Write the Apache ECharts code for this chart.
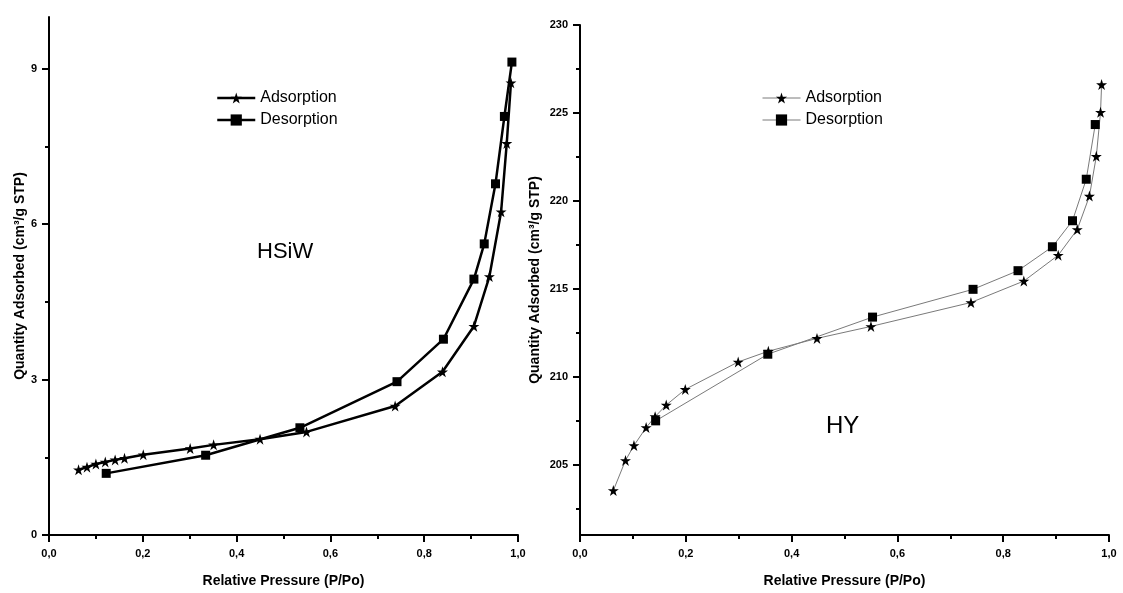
<!DOCTYPE html>
<html>
<head>
<meta charset="utf-8">
<script src="https://cdn.jsdelivr.net/npm/echarts@6/dist/echarts.min.js"></script>
<style>
html,body{margin:0;padding:0;background:#fff;}
#chart{width:1123px;height:593px;}
</style>
</head>
<body>
<div id="chart"></div>
<script>
// ---- Data: HSiW ----
const hsiwAdsP = [0.063,0.081,0.100,0.120,0.141,0.161,0.201,0.301,0.351,0.450,0.549,0.738,0.839,0.906,0.939,0.964,0.976,0.985];
const hsiwAdsQ = [1.26,1.31,1.37,1.41,1.45,1.48,1.55,1.67,1.74,1.85,1.99,2.49,3.15,4.03,4.99,6.24,7.56,8.73];
const hsiwDesP = [0.987,0.971,0.952,0.928,0.906,0.841,0.742,0.535,0.334,0.122];
const hsiwDesQ = [9.13,8.08,6.78,5.62,4.94,3.78,2.96,2.07,1.54,1.19];
// ---- Data: HY ----
const hyAdsP = [0.063,0.086,0.102,0.125,0.142,0.163,0.199,0.299,0.356,0.448,0.550,0.739,0.839,0.904,0.940,0.963,0.976,0.984,0.986];
const hyAdsQ = [203.53,205.24,206.09,207.11,207.73,208.39,209.28,210.84,211.45,212.18,212.86,214.22,215.44,216.91,218.37,220.27,222.53,225.04,226.61];
const hyDesP = [0.974,0.957,0.931,0.893,0.828,0.743,0.553,0.355,0.143];
const hyDesQ = [224.34,221.23,218.87,217.39,216.03,214.97,213.39,211.28,207.49];
// ---- Ticks ----
const xTicks = [0,0.2,0.4,0.6,0.8,1.0];
const xMinorTicks = [0.1,0.3,0.5,0.7,0.9];
const hsiwYTicks = [0,3,6,9];
const hsiwYMinor = [1.5,4.5,7.5];
const hyYTicks = [205,210,215,220,225,230];
const hyYMinor = [202.5,207.5,212.5,217.5,222.5,227.5];
const seriesNames = ['Adsorption','Desorption'];

const zip = (a,b) => a.map((v,i)=>[v,b[i]]);
const starPath = 'path://M100,0L122.45,69.1L195.11,69.1L136.33,111.8L158.78,180.9L100,138.2L41.22,180.9L63.67,111.8L4.89,69.1L77.55,69.1Z';
const FONT = '"Liberation Sans", Arial, sans-serif';
const fmtX = v => Number(v).toFixed(1).replace('.', ',');

function xAxisDef(gridIndex){
  return [{
    type:'value', gridIndex, min:0, max:1, position:'bottom',
    axisLine:{show:true, lineStyle:{color:'#000', width:2}},
    axisTick:{show:true, inside:false, length:7, lineStyle:{color:'#000', width:2}, customValues: xTicks},
    axisLabel:{show:true, margin:13, fontSize:11, fontWeight:'bold', color:'#000', fontFamily:FONT, formatter: fmtX, customValues: xTicks},
    splitLine:{show:false},
    name:'Relative Pressure (P/Po)', nameLocation:'middle', nameGap:39,
    nameTextStyle:{fontSize:14, fontWeight:'bold', color:'#000', fontFamily:FONT}
  },{
    type:'value', gridIndex, min:0, max:1, position:'bottom',
    axisLine:{show:false},
    axisTick:{show:true, inside:false, length:4, lineStyle:{color:'#000', width:2}, customValues: xMinorTicks},
    axisLabel:{show:false},
    splitLine:{show:false}
  }];
}
function yAxisDef(gridIndex, min, max, ticks, minor, gap){
  return [{
    type:'value', gridIndex, min, max, position:'left',
    axisLine:{show:true, lineStyle:{color:'#000', width:2}},
    axisTick:{show:true, inside:false, length:7, lineStyle:{color:'#000', width:2}, customValues: ticks},
    axisLabel:{show:true, margin:12, fontSize:11, fontWeight:'bold', color:'#000', fontFamily:FONT, customValues: ticks},
    splitLine:{show:false},
    name:'Quantity Adsorbed (cm³/g STP)', nameLocation:'middle', nameGap:gap,
    nameTextStyle:{fontSize:14, fontWeight:'bold', color:'#000', fontFamily:FONT}
  },{
    type:'value', gridIndex, min, max, position:'left',
    axisLine:{show:false},
    axisTick:{show:true, inside:false, length:4, lineStyle:{color:'#000', width:2}, customValues: minor},
    axisLabel:{show:false},
    splitLine:{show:false}
  }];
}

const leftStyle = {color:'#000', width:2.5};
const rightStyle = {color:'#7a7a7a', width:1};

const option = {
  animation:false,
  backgroundColor:'#fff',
  grid:[
    {left:49, top:17, width:469, height:519, containLabel:false},
    {left:580, top:25, width:529, height:513, containLabel:false}
  ],
  xAxis:[...xAxisDef(0), ...xAxisDef(1)],
  yAxis:[
    ...yAxisDef(0, 0, 10, hsiwYTicks, hsiwYMinor, 22),
    ...yAxisDef(1, 201, 230, hyYTicks, hyYMinor, 38)
  ],
  legend:[
    {
      left:211, top:85, orient:'vertical', itemWidth:38, itemHeight:14, itemGap:6,
      textStyle:{fontSize:16, color:'#000', fontFamily:FONT},
      data:[
        {name:seriesNames[0], itemStyle:{color:'#000'}, lineStyle:leftStyle},
        {name:seriesNames[1], itemStyle:{color:'#000'}, lineStyle:leftStyle}
      ]
    },
    {
      left:757, top:85, orient:'vertical', itemWidth:38, itemHeight:14, itemGap:6,
      textStyle:{fontSize:16, color:'#000', fontFamily:FONT},
      data:[
        {name:seriesNames[0], itemStyle:{color:'#000'}, lineStyle:rightStyle},
        {name:seriesNames[1], itemStyle:{color:'#000'}, lineStyle:rightStyle}
      ]
    }
  ],
  graphic:[
    {type:'text', left:257, top:241, style:{text:'HSiW', font:'22px "Liberation Sans", Arial, sans-serif', fill:'#000'}},
    {type:'text', left:826, top:414, style:{text:'HY', font:'24px "Liberation Sans", Arial, sans-serif', fill:'#000'}}
  ],
  series:[
    {name:seriesNames[0], type:'line', xAxisIndex:0, yAxisIndex:0, data:zip(hsiwAdsP,hsiwAdsQ),
      symbol:starPath, symbolSize:11, itemStyle:{color:'#000'}, lineStyle:leftStyle},
    {name:seriesNames[1], type:'line', xAxisIndex:0, yAxisIndex:0, data:zip(hsiwDesP,hsiwDesQ),
      symbol:'rect', symbolSize:9, itemStyle:{color:'#000'}, lineStyle:leftStyle},
    {name:seriesNames[0], type:'line', xAxisIndex:2, yAxisIndex:2, data:zip(hyAdsP,hyAdsQ),
      symbol:starPath, symbolSize:11, itemStyle:{color:'#000'}, lineStyle:rightStyle},
    {name:seriesNames[1], type:'line', xAxisIndex:2, yAxisIndex:2, data:zip(hyDesP,hyDesQ),
      symbol:'rect', symbolSize:9, itemStyle:{color:'#000'}, lineStyle:rightStyle}
  ]
};
const chart = echarts.init(document.getElementById('chart'), null, {renderer:'canvas'});
chart.setOption(option);
</script>
</body>
</html>
